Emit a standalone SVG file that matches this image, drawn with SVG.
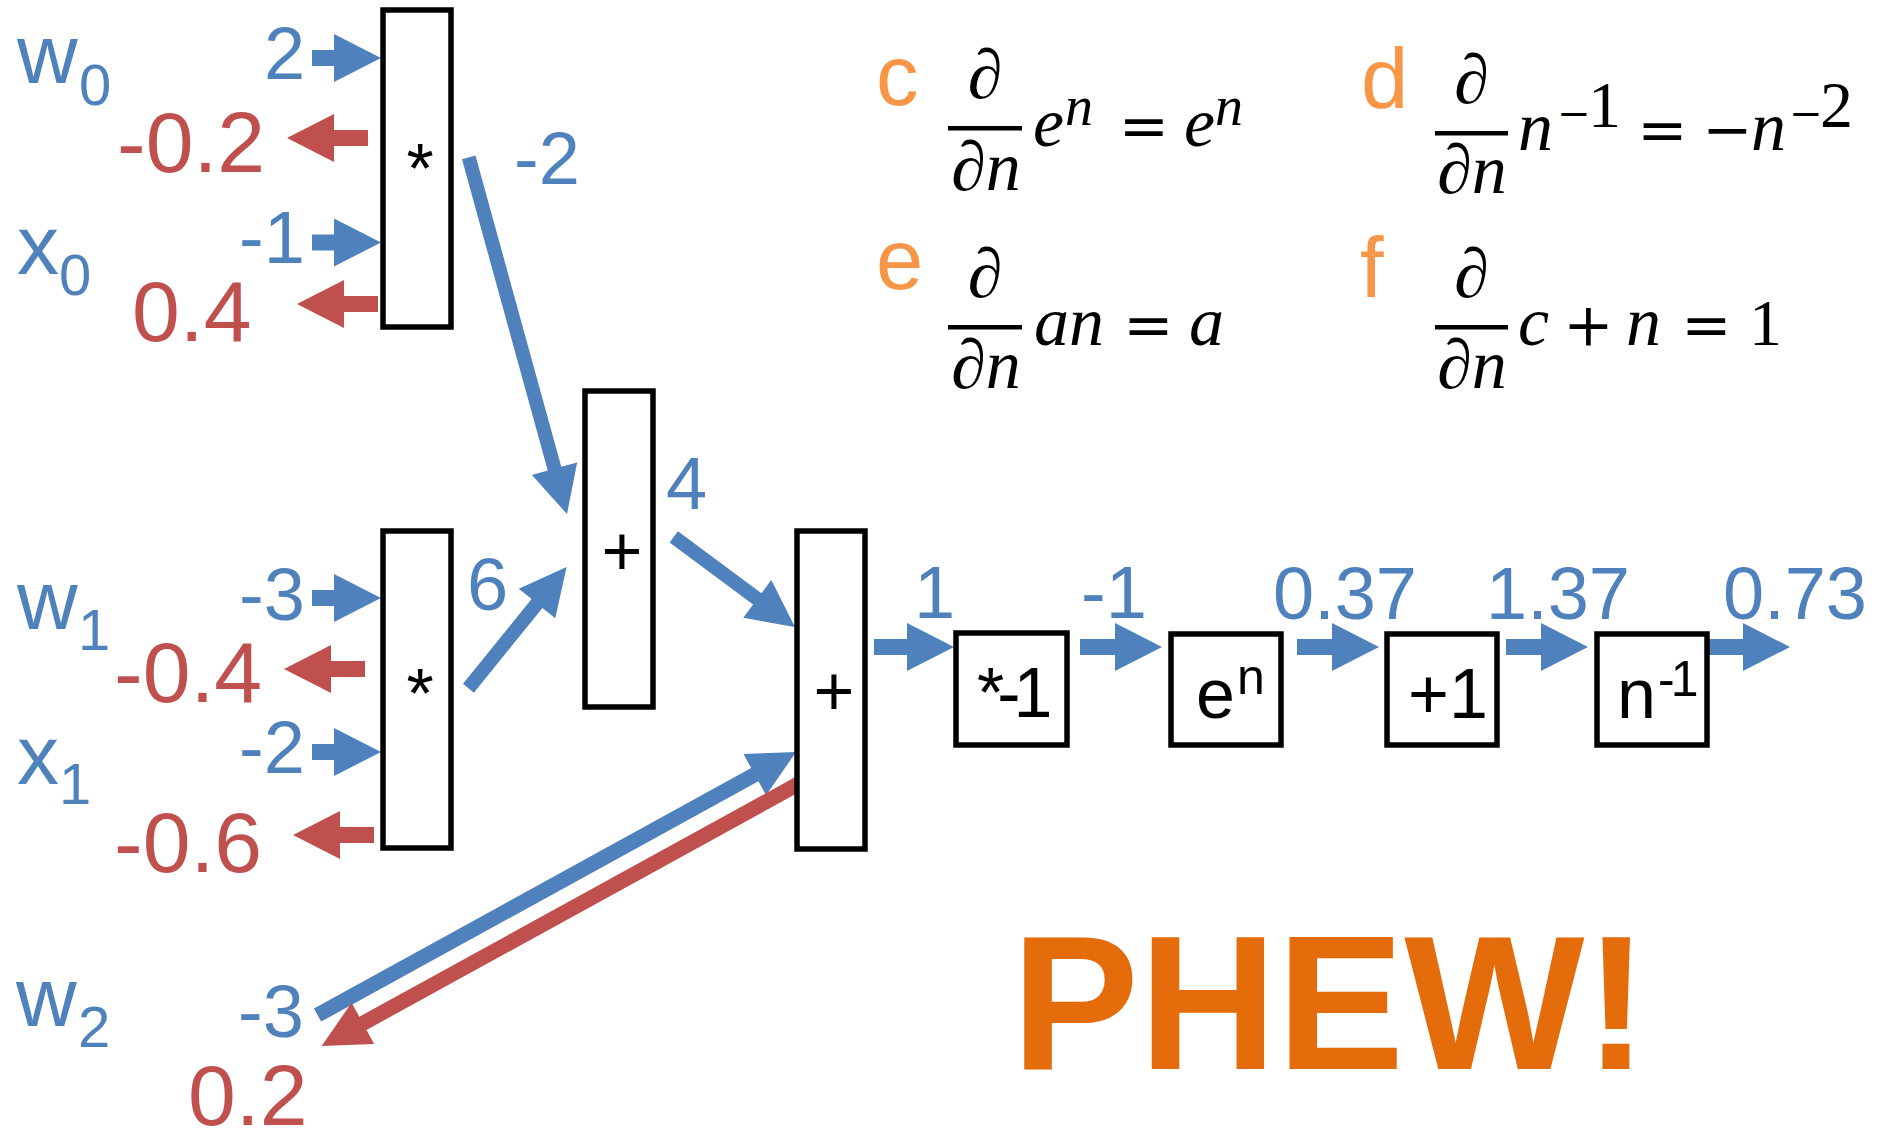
<svg xmlns="http://www.w3.org/2000/svg" width="1877" height="1131" viewBox="0 0 1877 1131">
<style>
.box{fill:#fff;stroke:#000;stroke-width:5.5}
.bl{font-family:"Liberation Sans",Arial,sans-serif;font-size:74px;fill:#4F81BD}
.rd{font-family:"Liberation Sans",Arial,sans-serif;font-size:86px;fill:#C0504D}
.var{font-family:"Liberation Sans",Arial,sans-serif;font-size:84px;fill:#4F81BD}
.sub{font-size:58px}
.op{font-family:"Liberation Sans",Arial,sans-serif;font-size:70px;fill:#000}
.sup{font-size:50px}
.or{font-family:"Liberation Sans",Arial,sans-serif;font-size:85px;fill:#F79646}
.mi{font-family:"Liberation Serif","DejaVu Serif",serif;font-style:italic;font-size:70px;fill:#000}
.ms{font-size:56px}
.mo{font-family:"DejaVu Serif",serif;font-size:60px;fill:#000}
.mos{font-size:40px}
.mn{font-family:"Liberation Serif",serif;font-size:66px;fill:#000}
.bar{fill:#000}
.ab{fill:#4F81BD}
.ar{fill:#C0504D}
.phew{font-family:"Liberation Sans",Arial,sans-serif;font-weight:bold;font-size:191px;fill:#E46C0A}
</style>

<g id="connectors">
  <path class="ab" d="M312,50 H334 V34 L381,58 L334,82 V66 H312 Z"/>
  <path class="ab" d="M312,234.5 H334 V218.5 L381,242.5 L334,266.5 V250.5 H312 Z"/>
  <path class="ab" d="M312,590 H334 V574 L381,598 L334,622 V606 H312 Z"/>
  <path class="ab" d="M312,744 H334 V728 L381,752 L334,776 V760 H312 Z"/>
  <path class="ar" d="M368,130 H334 V114 L287,138 L334,162 V146 H368 Z"/>
  <path class="ar" d="M378,296 H344 V280 L297,304 L344,328 V312 H378 Z"/>
  <path class="ar" d="M365,661 H331 V645 L284,669 L331,693 V677 H365 Z"/>
  <path class="ar" d="M374,827 H340 V811 L293,835 L340,859 V843 H374 Z"/>
  <path class="ab" transform="translate(567,514) rotate(74.6)" d="M-370,-7 H-47 V-23.5 L0,0 L-47,23.5 V7 H-370 Z"/>
  <path class="ab" transform="translate(566.6,567) rotate(-51)" d="M-156,-7 H-47 V-23.5 L0,0 L-47,23.5 V7 H-156 Z"/>
  <path class="ab" transform="translate(795,627) rotate(36.6)" d="M-151,-7 H-47 V-23.5 L0,0 L-47,23.5 V7 H-151 Z"/>
  <path class="ab" transform="translate(796,752) rotate(-28.8)" d="M-546,-7.5 H-47 V-23.5 L0,0 L-47,23.5 V7.5 H-546 Z"/>
  <path class="ar" transform="translate(321.7,1046) rotate(151.2)" d="M-545,-7.5 H-47 V-23.5 L0,0 L-47,23.5 V7.5 H-545 Z"/>
  <path class="ab" d="M874,639 H907 V623 L954,647 L907,671 V655 H874 Z"/>
  <path class="ab" d="M1080,639 H1115 V623 L1162,647 L1115,671 V655 H1080 Z"/>
  <path class="ab" d="M1297,639 H1332 V623 L1379,647 L1332,671 V655 H1297 Z"/>
  <path class="ab" d="M1506,639 H1541 V623 L1588,647 L1541,671 V655 H1506 Z"/>
  <path class="ab" d="M1709,639 H1743 V623 L1790,647 L1743,671 V655 H1709 Z"/>
</g>

<g id="mul1"><rect class="box" x="383" y="10" width="68" height="317"/><text class="op" x="420" y="193" text-anchor="middle">*</text></g>
<g id="mul2"><rect class="box" x="383" y="531" width="68" height="317"/><text class="op" x="420" y="718" text-anchor="middle">*</text></g>
<g id="add1"><rect class="box" x="585" y="391" width="68" height="316"/><text class="op" x="622" y="575" text-anchor="middle">+</text></g>
<g id="add2"><rect class="box" x="797" y="531" width="68" height="318"/><text class="op" x="834" y="715" text-anchor="middle">+</text></g>
<g id="neg"><rect class="box" x="956" y="633" width="111" height="112"/><text class="op" x="977" y="717" letter-spacing="-7">*-1</text></g>
<g id="exp"><rect class="box" x="1171" y="634" width="110" height="111"/><text class="op" x="1196" y="718" font-size="73">e<tspan class="sup" x="1237" y="694">n</tspan></text></g>
<g id="add3"><rect class="box" x="1387" y="634" width="110" height="111"/><text class="op" x="1408" y="718">+1</text></g>
<g id="inv"><rect class="box" x="1597" y="634" width="110" height="111"/><text class="op" x="1617" y="718" font-size="73">n<tspan class="sup" x="1658" y="696" letter-spacing="-4">-1</tspan></text></g>

<g id="inputs">
  <text class="var" x="17" y="83">w<tspan class="sub" x="79" y="105">0</tspan></text>
  <text class="var" x="17" y="274">x<tspan class="sub" x="59" y="295">0</tspan></text>
  <text class="var" x="17" y="629">w<tspan class="sub" x="78" y="650">1</tspan></text>
  <text class="var" x="17" y="784">x<tspan class="sub" x="59" y="804">1</tspan></text>
  <text class="var" x="16" y="1026">w<tspan class="sub" x="78" y="1047">2</tspan></text>
</g>

<g id="values">
  <text class="bl" x="264" y="79">2</text>
  <text class="bl" x="239" y="263">-1</text>
  <text class="bl" x="514" y="184">-2</text>
  <text class="bl" x="239" y="620">-3</text>
  <text class="bl" x="467" y="610">6</text>
  <text class="bl" x="239" y="773">-2</text>
  <text class="bl" x="666" y="509">4</text>
  <text class="bl" x="914" y="618">1</text>
  <text class="bl" x="1081" y="618">-1</text>
  <text class="bl" x="1273" y="619">0.37</text>
  <text class="bl" x="1486" y="619">1.37</text>
  <text class="bl" x="1723" y="619">0.73</text>
  <text class="bl" x="238" y="1037">-3</text>
</g>

<g id="gradients">
  <text class="rd" x="117" y="172">-0.2</text>
  <text class="rd" x="132" y="341">0.4</text>
  <text class="rd" x="114" y="702">-0.4</text>
  <text class="rd" x="114" y="872">-0.6</text>
  <text class="rd" x="188" y="1125">0.2</text>
</g>

<g id="formula-c">
  <text class="or" x="876" y="105">c</text>
  <text class="mi" x="985" y="98" text-anchor="middle">∂</text>
  <rect class="bar" x="948" y="126" width="74" height="4.5"/>
  <text class="mi" x="986" y="190" text-anchor="middle">∂n</text>
  <text class="mi" x="1033" y="146">e</text>
  <text class="mi ms" x="1065" y="125">n</text>
  <text class="mo" x="1144" y="146" text-anchor="middle">=</text>
  <text class="mi" x="1184" y="146">e</text>
  <text class="mi ms" x="1215" y="125">n</text>
</g>
<g id="formula-d">
  <text class="or" x="1361" y="108">d</text>
  <text class="mi" x="1471.5" y="103" text-anchor="middle">∂</text>
  <rect class="bar" x="1435" y="131" width="73" height="4.5"/>
  <text class="mi" x="1472" y="193" text-anchor="middle">∂n</text>
  <text class="mi" x="1518" y="150">n</text>
  <text class="mo mos" x="1574" y="127" text-anchor="middle">−</text>
  <text class="mn" font-size="46" x="1604.5" y="127" text-anchor="middle">1</text>
  <text class="mo" x="1662.5" y="150" text-anchor="middle">=</text>
  <text class="mo" x="1727.5" y="150" text-anchor="middle">−</text>
  <text class="mi" x="1751" y="150">n</text>
  <text class="mo mos" x="1806" y="127" text-anchor="middle">−</text>
  <text class="mn" font-size="46" x="1836.5" y="127" text-anchor="middle">2</text>
</g>
<g id="formula-e">
  <text class="or" x="876" y="289">e</text>
  <text class="mi" x="985" y="297" text-anchor="middle">∂</text>
  <rect class="bar" x="948" y="325" width="74" height="4.5"/>
  <text class="mi" x="986" y="388" text-anchor="middle">∂n</text>
  <text class="mi" x="1034" y="345">an</text>
  <text class="mo" x="1148.5" y="345" text-anchor="middle">=</text>
  <text class="mi" x="1189" y="345">a</text>
</g>
<g id="formula-f">
  <text class="or" x="1360" y="297">f</text>
  <text class="mi" x="1471.5" y="297" text-anchor="middle">∂</text>
  <rect class="bar" x="1435" y="325" width="73" height="4.5"/>
  <text class="mi" x="1472" y="388" text-anchor="middle">∂n</text>
  <text class="mi" x="1518" y="345">c</text>
  <text class="mo" x="1588.5" y="345" text-anchor="middle">+</text>
  <text class="mi" x="1626" y="345">n</text>
  <text class="mo" x="1706.5" y="345" text-anchor="middle">=</text>
  <text class="mn" x="1765.5" y="345" text-anchor="middle">1</text>
</g>

<g id="phew"><text class="phew" x="1011.5" y="1069">PHEW!</text></g>
</svg>
